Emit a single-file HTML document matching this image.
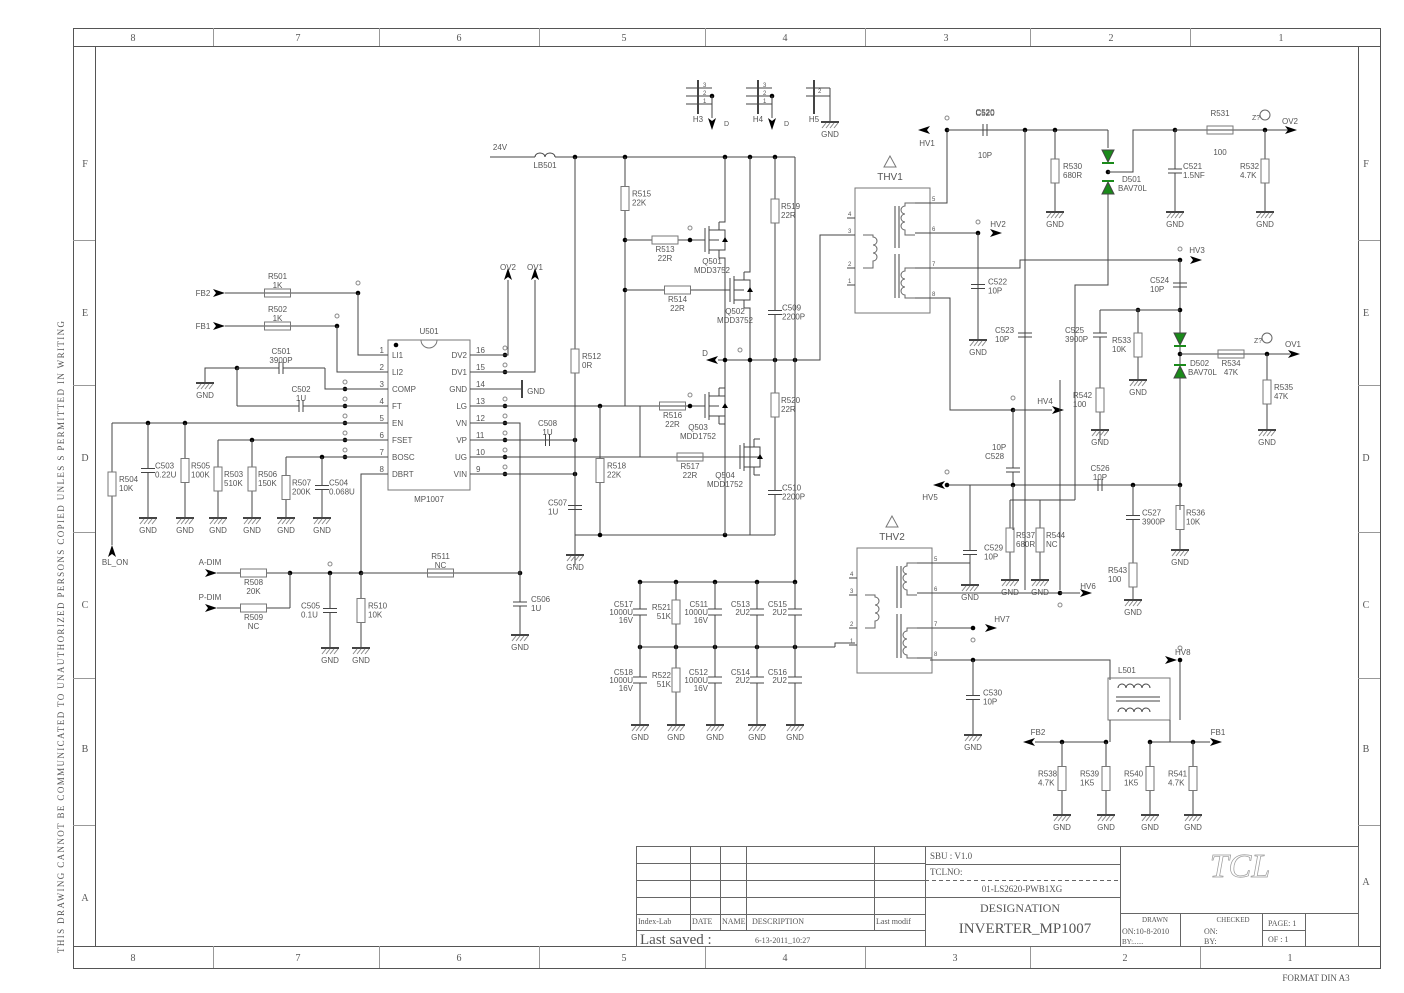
<!DOCTYPE html>
<html><head><meta charset="utf-8"><style>
html,body{margin:0;padding:0;background:#fff;}
svg{display:block;font-family:"Liberation Sans",sans-serif;}
</style></head><body>
<svg id="s" width="1404" height="993" viewBox="0 0 1404 993" xmlns="http://www.w3.org/2000/svg">
<g fill="none" stroke="#555" stroke-width="1">
<rect x="73.5" y="28.5" width="1307" height="940"/>
<rect x="95.5" y="46.5" width="1263" height="900"/>
<line x1="73" y1="46.5" x2="1380" y2="46.5"/>
<line x1="73" y1="946.5" x2="1380" y2="946.5"/>
<g stroke="#999">
<line x1="213.5" y1="28" x2="213.5" y2="46"/><line x1="379.5" y1="28" x2="379.5" y2="46"/><line x1="539.5" y1="28" x2="539.5" y2="46"/><line x1="705.5" y1="28" x2="705.5" y2="46"/><line x1="865.5" y1="28" x2="865.5" y2="46"/><line x1="1030.5" y1="28" x2="1030.5" y2="46"/><line x1="1190.5" y1="28" x2="1190.5" y2="46"/>
<line x1="213.5" y1="946" x2="213.5" y2="968"/><line x1="379.5" y1="946" x2="379.5" y2="968"/><line x1="539.5" y1="946" x2="539.5" y2="968"/><line x1="705.5" y1="946" x2="705.5" y2="968"/><line x1="865.5" y1="946" x2="865.5" y2="968"/><line x1="1030.5" y1="946" x2="1030.5" y2="968"/><line x1="1200.5" y1="946" x2="1200.5" y2="968"/>
<line x1="73" y1="240.5" x2="95" y2="240.5"/><line x1="73" y1="385.5" x2="95" y2="385.5"/><line x1="73" y1="532.5" x2="95" y2="532.5"/><line x1="73" y1="678.5" x2="95" y2="678.5"/><line x1="73" y1="825.5" x2="95" y2="825.5"/>
<line x1="1358" y1="240.5" x2="1380" y2="240.5"/><line x1="1358" y1="385.5" x2="1380" y2="385.5"/><line x1="1358" y1="532.5" x2="1380" y2="532.5"/><line x1="1358" y1="678.5" x2="1380" y2="678.5"/><line x1="1358" y1="825.5" x2="1380" y2="825.5"/>
</g>
</g>
<g font-family="Liberation Serif,serif" font-size="10" fill="#555" text-anchor="middle">
<text x="133" y="41">8</text><text x="298" y="41">7</text><text x="459" y="41">6</text><text x="624" y="41">5</text><text x="785" y="41">4</text><text x="946" y="41">3</text><text x="1111" y="41">2</text><text x="1281" y="41">1</text>
<text x="133" y="961">8</text><text x="298" y="961">7</text><text x="459" y="961">6</text><text x="624" y="961">5</text><text x="785" y="961">4</text><text x="955" y="961">3</text><text x="1125" y="961">2</text><text x="1290" y="961">1</text>
<text x="85" y="167">F</text><text x="85" y="316">E</text><text x="85" y="461">D</text><text x="85" y="608">C</text><text x="85" y="752">B</text><text x="85" y="901">A</text>
<text x="1366" y="167">F</text><text x="1366" y="316">E</text><text x="1366" y="461">D</text><text x="1366" y="608">C</text><text x="1366" y="752">B</text><text x="1366" y="885">A</text>
<text x="1316" y="981" font-size="9">FORMAT DIN A3</text>
<text transform="translate(64,637) rotate(-90)" font-size="9" textLength="632" lengthAdjust="spacing">THIS DRAWING CANNOT BE COMMUNICATED TO UNAUTHORIZED PERSONS COPIED UNLES S PERMITTED IN WRITING</text>
</g>
<g id="c" stroke="#444" stroke-width="1" fill="none"></g>
<g id="t" fill="#555" font-size="8"></g>
</svg>
<script>
const c=document.getElementById('c'),t=document.getElementById('t');
let h='',tx='';
function L(...p){h+=`<polyline points="${p.join(' ')}"/>`;}
function T(x,y,s,o){o=o||{};tx+=`<text x="${x}" y="${y}"${o.a?` text-anchor="${o.a}"`:''}${o.f?` font-size="${o.f}"`:''}${o.ff?` font-family="${o.ff}"`:''}${o.c?` fill="${o.c}"`:''}>${s}</text>`;}
function D(x,y){h+=`<circle cx="${x}" cy="${y}" r="2.3" fill="#000" stroke="none"/>`;}
function RV(x,y1,y2,n,v,lx){let m=(y1+y2)/2;L(x+','+y1,x+','+(m-12));L(x+','+(m+12),x+','+y2);h+=`<rect x="${x-4}" y="${m-12}" width="8" height="24" stroke="#777"/>`;lx=lx==null?x+6:lx;T(lx,m-2,n);T(lx,m+7,v);}
function RH(x1,x2,y,n,v){let m=(x1+x2)/2;L(x1+','+y,(m-13)+','+y);L((m+13)+','+y,x2+','+y);h+=`<rect x="${m-13}" y="${y-4}" width="26" height="8" stroke="#777"/>`;T(m,y-14,n,{a:'middle'});T(m,y-5,v,{a:'middle'});}
function RH2(x1,x2,y,n,v){let m=(x1+x2)/2;L(x1+','+y,(m-13)+','+y);L((m+13)+','+y,x2+','+y);h+=`<rect x="${m-13}" y="${y-4}" width="26" height="8" stroke="#777"/>`;T(m,y+12,n,{a:'middle'});T(m,y+21,v,{a:'middle'});}
function CV(x,y1,y2,n,v,lx){let m=(y1+y2)/2;L(x+','+y1,x+','+(m-2));L(x+','+(m+2),x+','+y2);L((x-7)+','+(m-2),(x+7)+','+(m-2));L((x-7)+','+(m+2),(x+7)+','+(m+2));lx=lx==null?x+9:lx;T(lx,m-2,n);T(lx,m+7,v);}
function CH(x1,x2,y,n,v){let m=(x1+x2)/2;L(x1+','+y,(m-2)+','+y);L((m+2)+','+y,x2+','+y);L((m-2)+','+(y-6),(m-2)+','+(y+6));L((m+2)+','+(y-6),(m+2)+','+(y+6));T(m,y-14,n,{a:'middle'});T(m,y-5,v,{a:'middle'});}
function G(x,y){h+=`<line x1="${x-9}" y1="${y}" x2="${x+9}" y2="${y}" stroke-width="2"/>`;for(let i=-8;i<8;i+=4)h+=`<line x1="${x+i}" y1="${y+6}" x2="${x+i+4}" y2="${y+1}" stroke="#888"/>`;T(x,y+15,'GND',{a:'middle'});}
function AR(x,y,d,lbl,lx,ly){let p;if(d=='r')p=`${x},${y-4} ${x+12},${y} ${x},${y+4} ${x+3},${y}`;if(d=='l')p=`${x},${y-4} ${x-12},${y} ${x},${y+4} ${x-3},${y}`;if(d=='d')p=`${x-4},${y} ${x},${y+12} ${x+4},${y} ${x},${y+3}`;if(d=='u')p=`${x-4},${y} ${x},${y-12} ${x+4},${y} ${x},${y-3}`;h+=`<polygon points="${p}" fill="#000" stroke="none"/>`;if(lbl)T(lx,ly,lbl,{a:'middle'});}
function TP(x,y){h+=`<circle cx="${x}" cy="${y}" r="2" stroke="#888"/>`;}
AR(213,293,'r','FB2',203,296);L('225,293','358,293');RH(225,330,293,'R501','1K');D(358,293);TP(358,283);L('358,293','358,355','388,355');
AR(213,326,'r','FB1',203,329);L('225,326','337,326');RH(225,330,326,'R502','1K');D(337,326);TP(337,316);L('337,326','337,372','388,372');
h+=`<rect x="388" y="340" width="82" height="150" stroke="#777"/>`;h+=`<path d="M421,340 a8,8 0 0 0 16,0" stroke="#777"/>`;D(396,345);
T(429,334,'U501',{a:'middle'});T(429,502,'MP1007',{a:'middle'});
const lp=[['1','LI1'],['2','LI2'],['3','COMP'],['4','FT'],['5','EN'],['6','FSET'],['7','BOSC'],['8','DBRT']];
const rp=[['16','DV2'],['15','DV1'],['14','GND'],['13','LG'],['12','VN'],['11','VP'],['10','UG'],['9','VIN']];
for(let i=0;i<8;i++){let y=355+i*17;L('365,'+y,'388,'+y);T(384,y-2,lp[i][0],{a:'end'});T(392,y+3,lp[i][1]);L('470,'+y,'492,'+y);T(476,y-2,rp[i][0]);T(467,y+3,rp[i][1],{a:'end'});}
for(let i=2;i<7;i++){D(345,355+i*17);TP(345,348+i*17);}
for(let i=0;i<8;i++){if(i!=2){D(505,355+i*17);TP(505,348+i*17);}}
L('205,383','205,368','237,368');D(237,368);G(205,383);
CH(237,325,368,'C501','3900P');L('325,368','325,389','365,389');
L('237,368','237,406');CH(237,365,406,'C502','1U');
L('112,423','365,423');D(148,423);D(185,423);
RV(112,423,545,'R504','10K',119);AR(112,557,'u','BL_ON',115,565);
CV(148,423,518,'C503','0.22U',155);G(148,518);RV(185,423,518,'R505','100K',191);G(185,518);
L('218,440','365,440');D(252,440);RV(218,440,518,'R503','510K',224);G(218,518);RV(252,440,518,'R506','150K',258);G(252,518);
L('286,457','365,457');D(322,457);RV(286,457,518,'R507','200K',292);G(286,518);CV(322,457,518,'C504','0.068U',329);G(322,518);
L('365,474','361,474','361,573');L('290,573','520,573');D(361,573);D(290,573);D(330,573);D(520,573);TP(330,564);
AR(205,573,'r','A-DIM',210,565);RH2(217,290,573,'R508','20K');
AR(205,608,'r','P-DIM',210,600);RH2(217,290,608,'R509','NC');L('290,608','290,573');
CV(330,573,648,'C505','0.1U',301);G(330,648);RV(361,573,648,'R510','10K',368);G(361,648);
RH(361,520,573,'R511','NC');CV(520,573,635,'C506','1U',531);G(520,635);L('520,573','520,423','492,423');
L('492,355','508,355','508,280');AR(508,280,'u','OV2',508,270);L('492,372','535,372','535,280');AR(535,280,'u','OV1',535,270);
h+=`<line x1="522" y1="380" x2="522" y2="398" stroke-width="2"/>`;L('492,389','522,389');T(536,394,'GND',{a:'middle'});
L('492,406','640,406');D(600,406);L('492,440','575,440');CH(520,575,440,'C508','1U');D(575,440);
L('492,457','760,457');L('492,474','575,474');D(575,474);
T(500,150,'24V',{a:'middle'});L('490,157','535,157');h+=`<path d="M535,157 a5,4 0 0 1 10,0 a5,4 0 0 1 10,0" />`;T(545,168,'LB501',{a:'middle'});
L('555,157','795,157');[575,625,725,750,775].forEach(x=>D(x,157));
RV(575,157,565,'R512','0R',582);CV(575,475,540,'C507','1U',548);L('575,540','575,555');G(575,555);
RV(625,157,240,'R515','22K',632);L('625,240','625,406');D(625,240);D(625,290);
RH2(625,705,240,'R513','22R');D(690,240);TP(690,228);
RH2(625,730,290,'R514','22R');
RV(600,406,535,'R518','22K',607);L('575,535','775,535');D(600,535);D(725,535);
function Q(x,y,n,v,lx,ly){L(x+','+(y-12),x+','+(y+12));L((x+4)+','+(y-14),(x+4)+','+(y+14));L((x+4)+','+(y-10),(x+14)+','+(y-10),(x+14)+','+(y-18));L((x+4)+','+(y+10),(x+14)+','+(y+10),(x+14)+','+(y+18));L((x+4)+','+y,(x+14)+','+y);L((x+14)+','+(y-10),(x+20)+','+(y-10),(x+20)+','+(y+10),(x+14)+','+(y+10));h+=`<polygon points="${x+17},${y+2} ${x+23},${y+2} ${x+20},${y-3}" fill="#000" stroke="none"/>`;T(lx,ly,n,{a:'middle'});T(lx,ly+9,v,{a:'middle'});}
Q(705,240,'Q501','MDD3752',712,264);L('719,222','725,222','725,157');L('719,258','725,258','725,535');
Q(730,290,'Q502','MDD3752',735,314);L('744,272','750,272','750,157');L('744,308','750,308','750,535');
L('640,406','705,406');RH2(640,705,406,'R516','22R');D(690,406);TP(690,395);Q(705,406,'Q503','MDD1752',698,430);L('719,388','725,388');L('719,424','725,424');
L('640,406','640,457');RH2(640,740,457,'R517','22R');Q(740,457,'Q504','MDD1752',725,478);L('754,439','760,439');L('754,475','760,475');
AR(718,360,'l','D',705,356);L('718,360','820,360','820,235','855,235');[725,750,775,795].forEach(x=>D(x,360));TP(740,350);
RV(775,157,265,'R519','22R',781);CV(775,265,360,'C509','2200P',782);
RV(775,360,450,'R520','22R',781);CV(775,450,535,'C510','2200P',782);
L('795,157','795,582');
L('640,582','795,582');[640,676,715,757,795].forEach(x=>D(x,582));
L('640,647','835,647');[640,676,715,757,795].forEach(x=>D(x,647));L('835,647','835,643','855,643');
L('640,725','640,582');L('676,725','676,582');L('715,725','715,582');L('757,725','757,582');L('795,725','795,582');
function CB(x,y,n,v,w,lx){h+=`<rect x="${x-7}" y="${y-3}" width="14" height="6" fill="#fff" stroke="#fff"/>`;L((x-7)+','+(y-3),(x+7)+','+(y-3));L((x-7)+','+(y+3),(x+7)+','+(y+3));T(lx,y-5,n,{a:'end'});T(lx,y+3,v,{a:'end'});if(w)T(lx,y+11,w,{a:'end'});}
function RB(x,y,n,v){h+=`<rect x="${x-4}" y="${y-12}" width="8" height="24" fill="#fff" stroke="#777"/>`;T(x-5,y-2,n,{a:'end'});T(x-5,y+7,v,{a:'end'});}
CB(640,612,'C517','1000U','16V',633);RB(676,612,'R521','51K');CB(715,612,'C511','1000U','16V',708);CB(757,612,'C513','2U2','',750);CB(795,612,'C515','2U2','',787);
CB(640,680,'C518','1000U','16V',633);RB(676,680,'R522','51K');CB(715,680,'C512','1000U','16V',708);CB(757,680,'C514','2U2','',750);CB(795,680,'C516','2U2','',787);
[640,676,715,757,795].forEach(x=>G(x,725));
function H(x,n,g){h+=`<line x1="${x+8}" y1="80" x2="${x+8}" y2="114" stroke-width="2"/>`;for(let i=0;i<3;i++){let y=88+i*8;if(g&&i==2)continue;L((x-4)+','+y,(x+22)+','+y);T(x+13,y-1,3-i+'',{f:6});}D(x+22,96);T(x+8,122,n,{a:'middle'});}
H(690,'H3');L('712,96','712,118');AR(712,118,'d');T(724,126,'D',{f:7});
H(750,'H4');L('772,96','772,118');AR(772,118,'d');T(784,126,'D',{f:7});
L('806,88','830,88');L('806,96','830,96');h+=`<line x1="814" y1="80" x2="814" y2="114" stroke-width="2"/>`;T(818,93,'2',{f:6});L('830,88','830,122');G(830,122);T(814,122,'H5',{a:'middle'});
function TR(x,y,n){h+=`<rect x="${x}" y="${y}" width="75" height="125" stroke="#777"/>`;T(x+35,y-8,n,{a:'middle',f:10});h+=`<polygon points="${x+35},${y-32} ${x+29},${y-21} ${x+41},${y-21}" stroke="#777"/>`;
[[4,30],[3,47],[2,80],[1,97]].forEach(p=>{L((x-8)+','+(y+p[1]),x+','+(y+p[1]));T(x-7,y+p[1]-2,p[0],{f:6});});
[[5,15],[6,45],[7,80],[8,110]].forEach(p=>{L((x+75)+','+(y+p[1]),(x+60)+','+(y+p[1]));T(x+77,y+p[1]-2,p[0],{f:6});});
h+=`<path d="M${x+60},${y+15} h-10 v3 a4,4 0 0 0 0,8 a4,4 0 0 0 0,8 a4,4 0 0 0 0,8 v5 h10 M${x+60},${y+80} h-10 v3 a4,4 0 0 0 0,8 a4,4 0 0 0 0,8 a4,4 0 0 0 0,8 v3 h10 M${x+8},${y+47} h10 v2 a4,4 0 0 1 0,8 a4,4 0 0 1 0,8 a4,4 0 0 1 0,8 v7 h-10" stroke="#666"/>`;
L((x+40)+','+(y+18),(x+40)+','+(y+60));L((x+44)+','+(y+18),(x+44)+','+(y+60));L((x+40)+','+(y+66),(x+40)+','+(y+110));L((x+44)+','+(y+66),(x+44)+','+(y+110));}
TR(855,188,'THV1');TR(857,548,'THV2');
L('930,203','947,203','947,130');D(947,130);TP(947,118);AR(930,130,'l','HV1',927,146);
L('947,130','1108,130');CH(960,1010,130,'C520','');T(985,140,'');D(1025,130);D(1055,130);
T(985,158,'10P',{a:'middle'});
RV(1055,130,212,'R530','680R',1063);G(1055,212);
L('1025,130','1025,590');CV(1025,300,370,'C523','10P',995);
L('1108,130','1108,148');h+=`<polygon points="1102,150 1114,150 1108,162" fill="#1a8a1a"/><line x1="1102" y1="163" x2="1114" y2="163" stroke="#1a8a1a" stroke-width="2"/><polygon points="1102,194 1114,194 1108,182" fill="#1a8a1a"/><line x1="1102" y1="181" x2="1114" y2="181" stroke="#1a8a1a" stroke-width="2"/>`;
D(1108,172);L('1108,172','1133,172','1133,130','1290,130');T(1122,182,'D501');T(1118,191,'BAV70L');
L('1108,194','1108,285','1075,285','1075,500');
D(1175,130);CV(1175,130,212,'C521','1.5NF',1183);G(1175,212);RH(1175,1265,130,'R531','');T(1220,155,'100',{a:'middle'});
D(1265,130);h+=`<circle cx="1265" cy="115" r="5" stroke="#666"/>`;T(1252,120,'Z?',{f:7});RV(1265,130,212,'R532','4.7K',1240);G(1265,212);AR(1285,130,'r','OV2',1290,124);
L('930,233','978,233');D(978,233);TP(978,222);AR(990,233,'r','HV2',998,227);L('978,233','978,340');CV(978,233,340,'C522','10P',988);G(978,340);
L('930,268','1020,268','1020,260','1180,260');D(1180,260);TP(1180,249);AR(1190,260,'r','HV3',1197,253);
L('1180,260','1180,510');CV(1180,260,310,'C524','10P',1150);D(1180,310);D(1138,310);L('1100,310','1180,310');
CV(1100,310,360,'C525','3900P',1065);RV(1100,360,440,'R542','100',1073);G(1100,430);
RV(1138,310,380,'R533','10K',1112);G(1138,380);
h+=`<polygon points="1174,333 1186,333 1180,345" fill="#1a8a1a"/><line x1="1174" y1="346" x2="1186" y2="346" stroke="#1a8a1a" stroke-width="2"/><polygon points="1174,378 1186,378 1180,366" fill="#1a8a1a"/><line x1="1174" y1="365" x2="1186" y2="365" stroke="#1a8a1a" stroke-width="2"/>`;
D(1180,354);L('1180,354','1267,354','1290,354');T(1190,366,'D502');T(1188,375,'BAV70L');RH2(1195,1267,354,'R534','47K');
D(1267,354);h+=`<circle cx="1267" cy="338" r="5" stroke="#666"/>`;T(1254,343,'Z?',{f:7});AR(1288,354,'r','OV1',1293,347);RV(1267,354,430,'R535','47K',1274);G(1267,430);
L('930,298','950,298','950,410','1013,410');D(1013,410);TP(1013,398);AR(1052,410,'r','HV4',1045,404);L('1013,410','1052,410');
CV(1013,410,530,'','',990);T(992,450,'10P');T(985,459,'C528');
L('945,485','1180,485');D(947,485);D(1013,485);D(1133,485);D(1180,485);AR(945,485,'l','HV5',930,500);TP(947,472);
CH(1080,1120,485,'C526','10P');
L('1060,380','1060,590');L('1013,485','1013,500','1075,500');
RV(1010,500,580,'R537','680R',1016);G(1010,580);RV(1040,500,580,'R544','NC',1046);G(1040,580);L('1010,500','1040,500');
CV(1133,485,550,'C527','3900P',1142);RV(1133,550,600,'R543','100',1108);G(1133,600);
RV(1180,485,550,'R536','10K',1186);G(1180,550);
L('930,563','970,563','970,585');CV(970,520,585,'C529','10P',984);L('970,520','970,485');G(970,585);
L('930,593','1060,593');D(1060,593);TP(1060,605);AR(1080,593,'r','HV6',1088,589);L('1060,593','1080,593');
L('930,628','973,628');D(973,628);TP(973,640);AR(985,628,'r','HV7',1002,622);
L('930,660','1110,660','1110,680');D(973,660);CV(973,660,735,'C530','10P',983);G(973,735);
L('1180,660','1180,720');TP(1180,648);D(1180,660);AR(1165,660,'r');T(1175,655,'HV8');
h+=`<rect x="1108" y="678" width="62" height="42" stroke="#777"/>`;T(1118,673,'L501');
h+=`<path d="M1118,688 a4,4 0 0 1 8,0 a4,4 0 0 1 8,0 a4,4 0 0 1 8,0 a4,4 0 0 1 8,0 M1118,712 a4,4 0 0 1 8,0 a4,4 0 0 1 8,0 a4,4 0 0 1 8,0 a4,4 0 0 1 8,0"/><line x1="1116" y1="697" x2="1160" y2="697"/><line x1="1116" y1="701" x2="1160" y2="701"/>`;
L('1110,720','1110,742');L('1170,720','1170,742');
AR(1035,742,'l','FB2',1038,735);L('1035,742','1106,742');D(1062,742);D(1106,742);
RV(1062,742,815,'R538','4.7K',1038);G(1062,815);RV(1106,742,815,'R539','1K5',1080);G(1106,815);
L('1150,742','1210,742');D(1150,742);D(1193,742);AR(1210,742,'r','FB1',1218,735);
RV(1150,742,815,'R540','1K5',1124);G(1150,815);RV(1193,742,815,'R541','4.7K',1168);G(1193,815);
h+=`<g stroke="#666"><rect x="636.5" y="846.5" width="722" height="100"/>`;
[863,880,897,914,930].forEach(y=>h+=`<line x1="636" y1="${y}.5" x2="925" y2="${y}.5"/>`);
[690,720,746,874].forEach(x=>h+=`<line x1="${x}.5" y1="846" x2="${x}.5" y2="930"/>`);
h+=`<line x1="925.5" y1="846" x2="925.5" y2="946"/><line x1="925" y1="864.5" x2="1120" y2="864.5"/><line x1="925" y1="880.5" x2="1120" y2="880.5" stroke-dasharray="4,3"/><line x1="925" y1="897.5" x2="1120" y2="897.5"/><line x1="1120.5" y1="846" x2="1120.5" y2="946"/><line x1="1120" y1="913.5" x2="1358" y2="913.5"/>`;
[1180,1262,1305].forEach(x=>h+=`<line x1="${x}.5" y1="913" x2="${x}.5" y2="946"/>`);
h+=`<line x1="1262" y1="930.5" x2="1305" y2="930.5"/></g>`;
c.innerHTML=h;
const S='Liberation Serif,serif';
T(638,924,'Index-Lab',{ff:S});T(692,924,'DATE',{ff:S});T(722,924,'NAME',{ff:S});T(752,924,'DESCRIPTION',{ff:S});T(876,924,'Last modif',{ff:S});
T(640,944,'Last saved :',{ff:S,f:15});T(755,943,'6-13-2011_10:27',{ff:S});
T(930,859,'SBU :  V1.0',{ff:S,f:9});T(930,875,'TCLNO:',{ff:S,f:9});T(1022,892,'01-LS2620-PWB1XG',{ff:S,f:9,a:'middle'});
T(1020,912,'DESIGNATION',{ff:S,f:12,a:'middle'});T(1025,933,'INVERTER_MP1007',{ff:S,f:15,a:'middle'});
T(1240,877,'TCL',{ff:S,f:34,a:'middle',c:'none'});
T(1155,922,'DRAWN',{ff:S,f:7,a:'middle'});T(1122,934,'ON:10-8-2010',{ff:S});T(1122,944,'BY:......',{ff:S,f:7});
T(1233,922,'CHECKED',{ff:S,f:7,a:'middle'});T(1204,934,'ON:',{ff:S});T(1204,944,'BY:',{ff:S});
T(1268,926,'PAGE: 1',{ff:S});T(1268,942,'OF :  1',{ff:S});
T(985,115,'C520',{a:'middle'});
t.innerHTML=tx;
[...t.querySelectorAll('text')].forEach(e=>{if(e.textContent=='TCL'){e.setAttribute('stroke','#999');e.setAttribute('font-style','italic');e.setAttribute('stroke-width','0.7');}});
</script>
</body></html>
